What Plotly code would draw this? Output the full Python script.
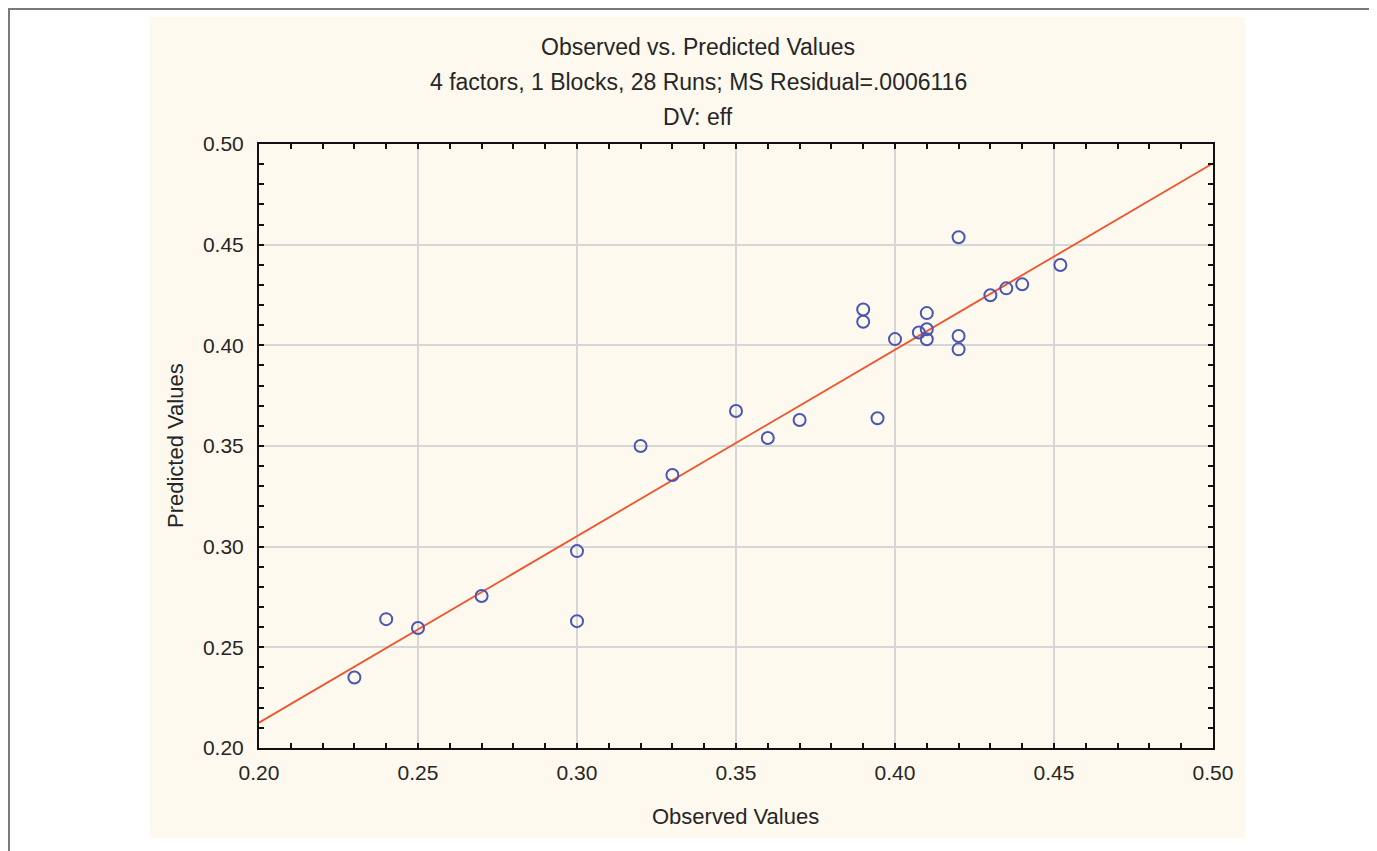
import plotly.graph_objects as go

# Observed vs predicted data
observed = [0.23, 0.24, 0.25, 0.27, 0.30, 0.30, 0.32, 0.33, 0.35, 0.36, 0.37,
            0.3945, 0.39, 0.39, 0.40, 0.4075, 0.41, 0.41, 0.41,
            0.42, 0.42, 0.42, 0.43, 0.435, 0.44, 0.452]
predicted = [0.235, 0.264, 0.2596, 0.2755, 0.2978, 0.263, 0.350, 0.3356, 0.3674, 0.354, 0.3629,
             0.3638, 0.4178, 0.4117, 0.4031, 0.4064, 0.408, 0.403, 0.416,
             0.4537, 0.4046, 0.398, 0.4249, 0.4283, 0.4303, 0.4399]

# Fitted line end points
fit_x = [0.20, 0.50]
fit_y = [0.2126, 0.4904]

tick_vals = [0.20, 0.25, 0.30, 0.35, 0.40, 0.45, 0.50]
tick_text = ["0.20", "0.25", "0.30", "0.35", "0.40", "0.45", "0.50"]

title_lines = ["Observed vs. Predicted Values",
               "4 factors, 1 Blocks, 28 Runs; MS Residual=.0006116",
               "DV: eff"]

OFF = 8  # page offset of the figure inside the browser window
SW, SH = 1377, 851
W, H = SW - OFF, SH - OFF
L, R, T, B = 259, 1213, 144, 748  # plot area in screen pixels

def px(x):
    return (x - L) / (R - L)

def py(y):
    return (B - y) / (B - T)

FONT = "Liberation Sans, Arial, sans-serif"
TXT = "#262626"

fig = go.Figure()
fig.add_trace(go.Scatter(x=fit_x, y=fit_y, mode="lines",
                         line=dict(color="#f2522c", width=1.8),
                         hoverinfo="skip", showlegend=False))
fig.add_trace(go.Scatter(x=observed, y=predicted, mode="markers",
                         marker=dict(symbol="circle-open", size=12,
                                     color="#4b56b2", line=dict(width=2, color="#4b56b2")),
                         showlegend=False))

axis_common = dict(
    range=[0.20, 0.50], tickvals=tick_vals, ticktext=tick_text,
    showline=True, linecolor="#111111", linewidth=2, mirror="allticks",
    ticks="inside", ticklen=5, tickwidth=1.5, tickcolor="#111111",
    showgrid=True, gridcolor="#d6d6d6", gridwidth=1.6, zeroline=False,
    tickfont=dict(family=FONT, size=21, color=TXT),
    minor=dict(dtick=0.01, tick0=0.2, ticks="inside", ticklen=5, tickwidth=1.5,
               tickcolor="#111111", showgrid=False),
)

fig.update_xaxes(**axis_common, ticklabelstandoff=5)
fig.update_yaxes(**axis_common, ticklabelstandoff=9)

shapes = [
    dict(type="rect", xref="paper", yref="paper", x0=px(150), x1=px(1245),
         y0=py(838), y1=py(17), fillcolor="#fdf9ee", line=dict(width=0), layer="below"),
    dict(type="line", xref="paper", yref="paper", x0=px(OFF), x1=px(SW),
         y0=py(OFF + 1), y1=py(OFF + 1), line=dict(color="#7a7a7a", width=2), layer="below"),
    dict(type="line", xref="paper", yref="paper", x0=px(OFF + 1), x1=px(OFF + 1),
         y0=py(OFF + 1), y1=py(SH), line=dict(color="#7a7a7a", width=2), layer="below"),
]

annotations = []
for t, yy in zip(title_lines, [47, 82, 117]):
    annotations.append(dict(text=t, xref="paper", yref="paper", x=px(698), y=py(yy),
                            xanchor="center", yanchor="middle", showarrow=False,
                            font=dict(family=FONT, size=23, color=TXT)))
annotations.append(dict(text="Observed Values", xref="paper", yref="paper",
                        x=px(735), y=py(816), xanchor="center", yanchor="middle",
                        showarrow=False, font=dict(family=FONT, size=22, color=TXT)))
annotations.append(dict(text="Predicted Values", xref="paper", yref="paper",
                        x=px(175), y=py(446), xanchor="center", yanchor="middle",
                        textangle=-90, showarrow=False,
                        font=dict(family=FONT, size=22, color=TXT)))

fig.update_layout(
    width=W, height=H,
    margin=dict(l=L - OFF, r=SW - R, t=T - OFF, b=SH - B, pad=0),
    paper_bgcolor="white", plot_bgcolor="white",
    shapes=shapes, annotations=annotations,
    showlegend=False,
)

fig.write_html("out.html")
